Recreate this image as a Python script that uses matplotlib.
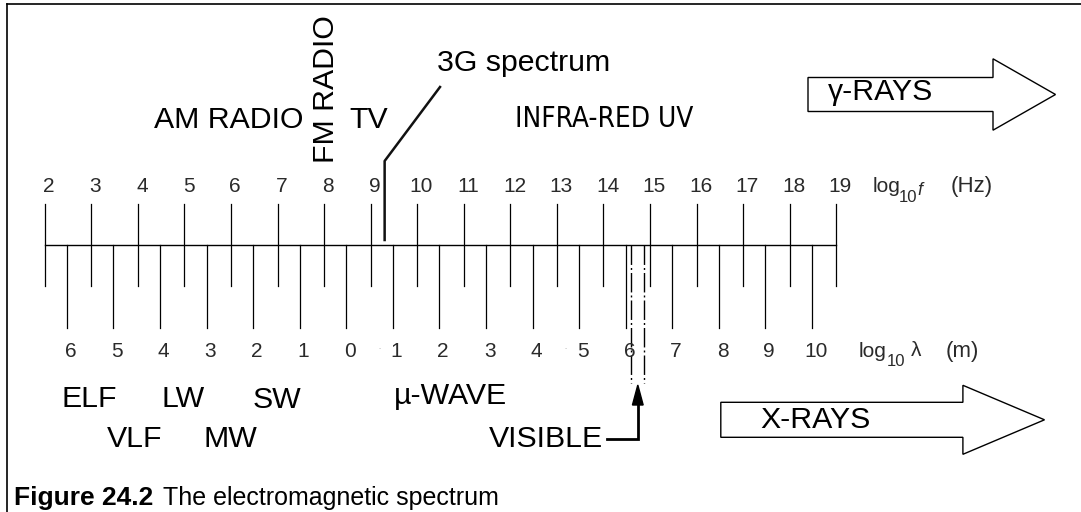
import numpy as np
import matplotlib.pyplot as plt
from matplotlib.patches import Polygon
from matplotlib import font_manager

plt.rcParams['font.family'] = ['Liberation Sans', 'DejaVu Sans']

# upper scale: log10 f (Hz)
freq_exp = [2, 3, 4, 5, 6, 7, 8, 9, 10, 11, 12, 13, 14, 15, 16, 17, 18, 19]
freq_labels = [str(v) for v in freq_exp]

# lower scale: log10 lambda (m); the minus signs are faded in the original
lam_exp = [6, 5, 4, 3, 2, 1, 0, -1, -2, -3, -4, -5, -6, -7, -8, -9, -10]
lam_labels = ['6', '5', '4', '3', '2', '1', '0', '1', '2', '3', '4', '5',
              '6', '7', '8', '9', '10']
lam_faded = [-1, -5]
c_light = 2.998e8

g3_hz = 2e9                    # 3G spectrum marker
visible_hz = [4.0e14, 7.5e14]  # visible band edges

# pixel layout -> frequency units on x
PX0, PPU = 44.7, 46.56
def fx(px):
    return 2 + (px - PX0) / PPU

LBL = 21.8
TCK = 15
GREY = '#2a2a2a'

# narrow face for INFRA-RED UV, if one is installed
narrow = [f for f in font_manager.fontManager.ttflist
          if ('Narrow' in f.name or 'Condensed' in f.name
              or str(f.stretch) in ('condensed', 'semi-condensed'))
          and f.style == 'normal' and str(f.weight) in ('400', 'normal', 'regular')
          and 'Mono' not in f.name and 'Serif' not in f.name]
if narrow:
    ir_font = font_manager.FontProperties(fname=narrow[0].fname, size=20)
else:
    ir_font = font_manager.FontProperties(family='Liberation Sans', size=18.8)

fig = plt.figure(figsize=(10.81, 5.12), dpi=100)
ax = fig.add_axes([0, 0, 1, 1])
ax.set_xlim(fx(0), fx(1081))
ax.set_ylim(512, 0)
ax.axis('off')

# frame (left and top only)
ax.plot([fx(6.9), fx(6.9)], [512, 4], color='black', lw=1.2)
ax.plot([fx(6.9), fx(1081)], [4, 4], color='black', lw=1.2)

# main scale
ax.plot([freq_exp[0], freq_exp[-1]], [245.3, 245.3], color='black', lw=1)
for f, lab in zip(freq_exp, freq_labels):
    ax.plot([f, f], [204.3, 286], color='black', lw=0.9)
    ax.text(f + 0.09, 192, lab, fontsize=TCK, ha='center', va='baseline', color=GREY)

lam_pos = [np.log10(c_light) - L for L in lam_exp]
for L, xp, lab in zip(lam_exp, lam_pos, lam_labels):
    ax.plot([xp, xp], [245.3, 327.7], color='black', lw=0.9)
    ax.text(xp + 0.08, 357, lab, fontsize=TCK, ha='center', va='baseline', color=GREY)
    if L in lam_faded:
        ax.text(xp - 0.28, 352, '·', fontsize=9, ha='center', va='baseline', color='#bbbbbb')

# axis names
ax.text(fx(873), 192, 'log', fontsize=TCK, ha='left', va='baseline', color=GREY)
ax.text(fx(899), 201.5, '10', fontsize=12, ha='left', va='baseline', color=GREY)
ax.text(fx(917), 195, 'f', fontsize=13, style='italic', ha='left', va='baseline', color=GREY)
ax.text(fx(972), 192, '(Hz)', fontsize=16, ha='center', va='baseline', color=GREY)

ax.text(fx(859), 357, 'log', fontsize=TCK, ha='left', va='baseline', color=GREY)
ax.text(fx(887), 366, '10', fontsize=12, ha='left', va='baseline', color=GREY)
ax.text(fx(911), 356, 'λ', fontsize=TCK, ha='left', va='baseline', color=GREY)
ax.text(fx(962), 357, '(m)', fontsize=16, ha='center', va='baseline', color=GREY)

# 3G spectrum pointer
g3 = np.log10(g3_hz)
ax.plot([g3, g3, fx(440)], [240, 161, 87], color='#111', lw=1.8)
ax.text(fx(437), 71, '3G spectrum', fontsize=LBL, ha='left', va='baseline')

# visible band
vis = np.log10(visible_hz)
for v in vis:
    ax.plot([v, v], [245.3, 383.3], color='black', lw=1,
            linestyle=(0, (14, 2.2, 1.4, 2.2)))
vmid = vis.mean()
ax.plot([fx(606.7), vmid, vmid], [439, 439, 403], color='black', lw=2,
        solid_joinstyle='miter')
ax.add_patch(Polygon([[vmid - 0.115, 405], [vmid + 0.115, 405], [vmid, 385]],
                     closed=True, color='black'))
ax.text(fx(489), 447, 'VISIBLE', fontsize=LBL, ha='left', va='baseline')

# upper band names
ax.text(fx(154.3), 128, 'AM RADIO', fontsize=LBL, ha='left', va='baseline')
ax.text(fx(334), 163, 'FM RADIO', fontsize=LBL, rotation=90,
        rotation_mode='anchor', ha='left', va='baseline')
ax.text(fx(349.5), 128, 'TV', fontsize=LBL, ha='left', va='baseline')
ax.text(fx(515), 127, 'INFRA-RED UV', fontproperties=ir_font, ha='left', va='baseline')

# lower band names
ax.text(fx(62), 407, 'ELF', fontsize=LBL, ha='left', va='baseline')
ax.text(fx(161.8), 407, 'LW', fontsize=LBL, ha='left', va='baseline')
ax.text(fx(253), 408, 'SW', fontsize=LBL, ha='left', va='baseline')
ax.text(fx(394.3), 404, 'µ-WAVE', fontsize=LBL, ha='left', va='baseline')
ax.text(fx(106.7), 447, 'VLF', fontsize=LBL, ha='left', va='baseline')
ax.text(fx(203), 447, 'MW', fontsize=LBL, ha='left', va='baseline')

# block arrows
def block_arrow(x0, x1, xt, yc, hb, hh, text, tx, ty):
    pts = [[fx(x0), yc - hb], [fx(x1), yc - hb], [fx(x1), yc - hh], [fx(xt), yc],
           [fx(x1), yc + hh], [fx(x1), yc + hb], [fx(x0), yc + hb]]
    ax.add_patch(Polygon(pts, closed=True, facecolor='white', edgecolor='black', lw=1))
    ax.text(fx(tx), ty, text, fontsize=LBL, ha='left', va='baseline')

block_arrow(808, 993, 1055.5, 94.5, 17, 35.7, 'γ-RAYS', 827.5, 100)
block_arrow(720.8, 962.9, 1044.5, 419.8, 17.5, 34.5, 'X-RAYS', 760.4, 428)

# caption
ax.text(fx(13.5), 505, 'Figure 24.2', fontsize=19, fontweight='bold',
        ha='left', va='baseline')
ax.text(fx(163), 505, 'The electromagnetic spectrum', fontsize=18,
        ha='left', va='baseline')

fig.savefig('out.png', dpi=100)
